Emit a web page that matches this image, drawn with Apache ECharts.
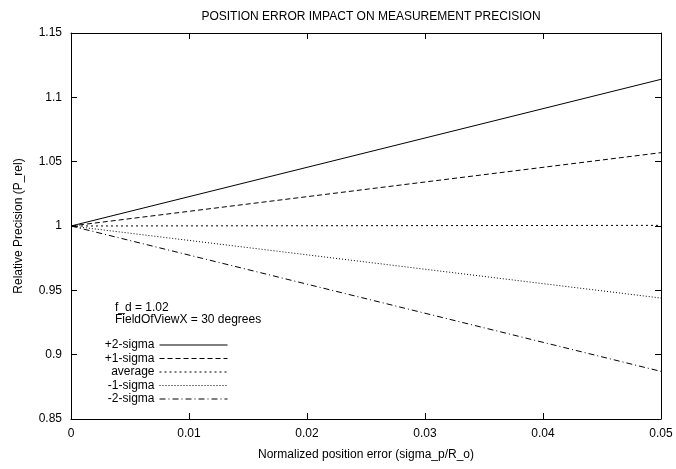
<!DOCTYPE html>
<html>
<head>
<meta charset="utf-8">
<script src="https://cdn.jsdelivr.net/npm/echarts@6/dist/echarts.min.js"></script>
<style>
  html, body { margin: 0; padding: 0; background: #fff; }
  #chart { width: 676px; height: 469px; }
</style>
</head>
<body>
<div id="chart"></div>
<script type="text/javascript">
// normalized position error (sigma_p/R_o)
var errX = [0, 0.05];
var plus2 = [1, 1.114];
var plus1 = [1, 1.057];
var average = [1, 1.0005];
var minus1 = [1, 0.944];
var minus2 = [1, 0.887];
var seriesNames = ['+2-sigma', '+1-sigma', 'average', '-1-sigma', '-2-sigma'];

var font = 'Liberation Sans, Arial, sans-serif';

function pairs(ys) {
    var out = [];
    for (var i = 0; i < errX.length; i++) out.push([errX[i], ys[i]]);
    return out;
}

var dashes = ['solid', [5, 3], [2, 3], [1, 2], [6, 3, 1, 3]];
var values = [plus2, plus1, average, minus1, minus2];

var series = [];
for (var i = 0; i < values.length; i++) {
    series.push({
        name: seriesNames[i],
        type: 'line',
        symbol: 'none',
        animation: false,
        data: pairs(values[i]),
        itemStyle: { color: '#000' },
        lineStyle: { color: '#000', width: 1, type: dashes[i] }
    });
}

var myChart = echarts.init(document.getElementById('chart'));
myChart.setOption({
    animation: false,
    title: {
        text: 'POSITION ERROR IMPACT ON MEASUREMENT PRECISION',
        left: 366,
        textAlign: 'center',
        top: 6,
        textStyle: { fontFamily: font, fontSize: 12, fontWeight: 'normal', color: '#000' }
    },
    grid: { left: 71, right: 15, top: 33, bottom: 50 },
    legend: {
        orient: 'vertical',
        right: 448,
        top: 339,
        align: 'right',
        itemWidth: 68,
        itemHeight: 8,
        itemGap: 1.5,
        padding: 0,
        itemStyle: { opacity: 0 },
        lineStyle: { width: 1 },
        textStyle: { fontFamily: font, fontSize: 12, lineHeight: 12, color: '#000' },
        data: seriesNames
    },
    graphic: [
        { type: 'text', left: 115, top: 302, style: { text: 'f_d = 1.02', font: '12px ' + font, fill: '#000' } },
        { type: 'text', left: 115, top: 314, style: { text: 'FieldOfViewX = 30 degrees', font: '12px ' + font, fill: '#000' } }
    ],
    xAxis: [{
        type: 'value',
        min: 0, max: 0.05, interval: 0.01,
        name: 'Normalized position error (sigma_p/R_o)',
        nameLocation: 'middle',
        nameGap: 30,
        nameTextStyle: { fontFamily: font, fontSize: 12, color: '#000' },
        axisLine: { onZero: false, lineStyle: { color: '#000', width: 1 } },
        axisTick: { inside: true, length: 6, lineStyle: { color: '#000' } },
        axisLabel: { fontFamily: font, fontSize: 12, color: '#000', margin: 9 },
        splitLine: { show: false }
    }, {
        type: 'value', position: 'top',
        min: 0, max: 0.05, interval: 0.01,
        axisLine: { onZero: false, lineStyle: { color: '#000', width: 1 } },
        axisTick: { inside: true, length: 6, lineStyle: { color: '#000' } },
        axisLabel: { show: false },
        splitLine: { show: false }
    }],
    yAxis: [{
        type: 'value',
        min: 0.85, max: 1.15, interval: 0.05,
        name: 'Relative Precision (P_rel)',
        nameLocation: 'middle',
        nameGap: 46,
        nameTextStyle: { fontFamily: font, fontSize: 12, color: '#000' },
        axisLine: { onZero: false, lineStyle: { color: '#000', width: 1 } },
        axisTick: { inside: true, length: 6, lineStyle: { color: '#000' } },
        axisLabel: { fontFamily: font, fontSize: 12, color: '#000', margin: 9 },
        splitLine: { show: false }
    }, {
        type: 'value', position: 'right',
        min: 0.85, max: 1.15, interval: 0.05,
        axisLine: { onZero: false, lineStyle: { color: '#000', width: 1 } },
        axisTick: { inside: true, length: 6, lineStyle: { color: '#000' } },
        axisLabel: { show: false },
        splitLine: { show: false }
    }],
    series: series
});
</script>
</body>
</html>
